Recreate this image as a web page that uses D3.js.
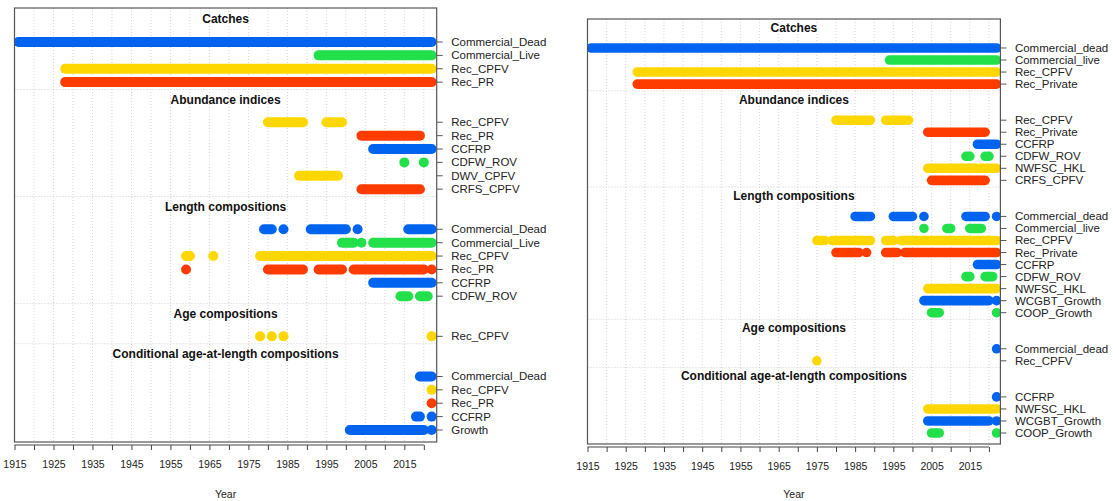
<!DOCTYPE html>
<html>
<head>
<meta charset="utf-8">
<script src="https://cdn.jsdelivr.net/npm/d3@7"></script>
<style>
body { margin: 0; background: #fff; }
text { font-family: "Liberation Sans", Arial, sans-serif; }
</style>
</head>
<body>
<svg id="chart" width="1113" height="501"></svg>
<script>
// x axis
var tickYears = d3.range(1915, 2021, 5);
var tickLabels = [1915, 1925, 1935, 1945, 1955, 1965, 1975, 1985, 1995, 2005, 2015];
var sectionTitles = ["Catches", "Abundance indices", "Length compositions", "Age compositions", "Conditional age-at-length compositions"];

// ---- left chart: fleets and year spans [first, last] ----
var leftCatchFleets = ["Commercial_Dead", "Commercial_Live", "Rec_CPFV", "Rec_PR"];
var leftCatchYears = [[[1916, 2022]], [[1993, 2022]], [[1928, 2022]], [[1928, 2022]]];

var leftIndexFleets = ["Rec_CPFV", "Rec_PR", "CCFRP", "CDFW_ROV", "DWV_CPFV", "CRFS_CPFV"];
var leftIndexYears = [[[1980, 1989], [1995, 1999]], [[2004, 2019]], [[2007, 2022]],
    [[2015, 2015], [2020, 2020]], [[1988, 1998]], [[2004, 2019]]];

var leftLengthFleets = ["Commercial_Dead", "Commercial_Live", "Rec_CPFV", "Rec_PR", "CCFRP", "CDFW_ROV"];
var leftLengthYears = [
    [[1979, 1981], [1984, 1984], [1991, 2000], [2003, 2003], [2016, 2022]],
    [[1999, 2002], [2004, 2004], [2007, 2022]],
    [[1959, 1960], [1966, 1966], [1978, 2022]],
    [[1959, 1959], [1980, 1989], [1993, 1999], [2002, 2020], [2022, 2022]],
    [[2007, 2022]],
    [[2014, 2016], [2019, 2021]]
];

var leftAgeFleets = ["Rec_CPFV"];
var leftAgeYears = [[[1978, 1978], [1981, 1981], [1984, 1984], [2022, 2022]]];

var leftCondFleets = ["Commercial_Dead", "Rec_CPFV", "Rec_PR", "CCFRP", "Growth"];
var leftCondYears = [[[2019, 2022]], [[2022, 2022]], [[2022, 2022]],
    [[2018, 2019], [2022, 2022]], [[2001, 2020], [2022, 2022]]];

// ---- right chart ----
var rightCatchFleets = ["Commercial_dead", "Commercial_live", "Rec_CPFV", "Rec_Private"];
var rightCatchYears = [[[1916, 2022]], [[1994, 2022]], [[1928, 2022]], [[1928, 2022]]];

var rightIndexFleets = ["Rec_CPFV", "Rec_Private", "CCFRP", "CDFW_ROV", "NWFSC_HKL", "CRFS_CPFV"];
var rightIndexYears = [[[1980, 1989], [1993, 1999]], [[2004, 2019]], [[2017, 2022]],
    [[2014, 2015], [2019, 2020]], [[2004, 2022]], [[2005, 2019]]];

var rightLengthFleets = ["Commercial_dead", "Commercial_live", "Rec_CPFV", "Rec_Private", "CCFRP",
    "CDFW_ROV", "NWFSC_HKL", "WCGBT_Growth", "COOP_Growth"];
var rightLengthYears = [
    [[1985, 1989], [1995, 2000], [2003, 2003], [2014, 2019], [2022, 2022]],
    [[2003, 2003], [2009, 2010], [2015, 2018]],
    [[1975, 1977], [1979, 1989], [1993, 1995], [1997, 2022]],
    [[1980, 1986], [1988, 1988], [1993, 1996], [1998, 2022]],
    [[2017, 2022]],
    [[2014, 2015], [2019, 2021]],
    [[2004, 2022]],
    [[2003, 2020], [2022, 2022]],
    [[2005, 2007], [2022, 2022]]
];

var rightAgeFleets = ["Commercial_dead", "Rec_CPFV"];
var rightAgeYears = [[[2022, 2022]], [[1975, 1975]]];

var rightCondFleets = ["CCFRP", "NWFSC_HKL", "WCGBT_Growth", "COOP_Growth"];
var rightCondYears = [[[2022, 2022]], [[2004, 2022]], [[2004, 2020], [2022, 2022]], [[2005, 2007], [2022, 2022]]];

// colours by fleet
var blue = "#0064f0", green = "#22e04a", yellow = "#ffd700", red = "#ff3c00";
var fleetColor = {
    Commercial_Dead: blue, Commercial_dead: blue, Commercial_Live: green, Commercial_live: green,
    Rec_CPFV: yellow, Rec_PR: red, Rec_Private: red, CCFRP: blue, CDFW_ROV: green,
    DWV_CPFV: yellow, NWFSC_HKL: yellow, CRFS_CPFV: red, Growth: blue,
    WCGBT_Growth: blue, COOP_Growth: green
};

var makeSections = function(fleets, years) {
    return sectionTitles.map(function(t, i) {
        return {title: t, fleets: fleets[i], years: years[i]};
    });
};

var panels = [
    {sections: makeSections([leftCatchFleets, leftIndexFleets, leftLengthFleets, leftAgeFleets, leftCondFleets],
                            [leftCatchYears, leftIndexYears, leftLengthYears, leftAgeYears, leftCondYears]),
     x0: 14.5, x1: 436.7, xMax: 2023.3, top: 8, bottom: 442, idxBottom: 0.103, idxTop: 32.54, barH: 10, tickY: 445},
    {sections: makeSections([rightCatchFleets, rightIndexFleets, rightLengthFleets, rightAgeFleets, rightCondFleets],
                            [rightCatchYears, rightIndexYears, rightLengthYears, rightAgeYears, rightCondYears]),
     x0: 587.5, x1: 1000.4, xMax: 2023.0, top: 19, bottom: 444, idxBottom: 0.086, idxTop: 35.41, barH: 9.6, tickY: 447}
];

var svg = d3.select("#chart");

var drawPanel = function(p, pi) {
    var x = d3.scaleLinear().domain([1915, p.xMax]).range([p.x0, p.x1]);
    var y = d3.scaleLinear().domain([p.idxBottom, p.idxTop]).range([p.bottom, p.top]);
    var g = svg.append("g");

    // row positions, counted from the bottom
    var idx = 1;
    var rows = [];
    p.sections.slice().reverse().forEach(function(s) {
        s.rowIdx = [];
        for (var i = s.fleets.length - 1; i >= 0; i--) {
            s.rowIdx[i] = idx;
            rows.push({name: s.fleets[i], idx: idx, years: s.years[i]});
            idx++;
        }
        s.firstIdx = idx - 1;
        s.lastIdx = s.rowIdx[s.fleets.length - 1];
        idx += 2;
    });

    // grid
    g.selectAll(".vgrid").data(tickYears).enter().append("line")
        .attr("x1", function(d){return x(d);}).attr("x2", function(d){return x(d);})
        .attr("y1", p.top).attr("y2", p.bottom)
        .attr("stroke", "#d4d4d4").attr("stroke-width", 1).attr("stroke-dasharray", "1,2");
    g.selectAll(".hgrid").data(p.sections.slice(0, -1)).enter().append("line")
        .attr("x1", p.x0).attr("x2", p.x1)
        .attr("y1", function(d){return y(d.lastIdx - 0.55);}).attr("y2", function(d){return y(d.lastIdx - 0.55);})
        .attr("stroke", "#cfcfcf").attr("stroke-width", 1).attr("stroke-dasharray", "1,2");

    svg.append("clipPath").attr("id", "clip" + pi).append("rect")
        .attr("x", p.x0).attr("y", p.top).attr("width", p.x1 - p.x0).attr("height", p.bottom - p.top);

    var r = p.barH / 2;
    var bars = g.append("g").attr("clip-path", "url(#clip" + pi + ")");
    rows.forEach(function(row) {
        bars.selectAll(null).data(row.years).enter().append("rect")
            .attr("x", function(d){return x(d[0]) - r;})
            .attr("width", function(d){return x(d[1]) - x(d[0]) + 2 * r;})
            .attr("y", y(row.idx) - r)
            .attr("height", 2 * r)
            .attr("rx", r).attr("ry", r)
            .attr("fill", fleetColor[row.name]);
    });

    // section titles
    g.selectAll(".title").data(p.sections).enter().append("text")
        .attr("x", (p.x0 + p.x1) / 2)
        .attr("y", function(d){return y(d.firstIdx + 1.7);})
        .attr("dominant-baseline", "central")
        .attr("text-anchor", "middle")
        .attr("font-size", 12).attr("font-weight", "bold").attr("fill", "#111")
        .text(function(d){return d.title;});

    // box
    g.append("rect").attr("x", p.x0).attr("y", p.top)
        .attr("width", p.x1 - p.x0).attr("height", p.bottom - p.top)
        .attr("fill", "none").attr("stroke", "#555").attr("stroke-width", 1.2);

    // right axis with row labels
    g.selectAll(".rtick").data(rows).enter().append("line")
        .attr("x1", p.x1).attr("x2", p.x1 + 6)
        .attr("y1", function(d){return y(d.idx);}).attr("y2", function(d){return y(d.idx);})
        .attr("stroke", "#555");
    g.selectAll(".rlab").data(rows).enter().append("text")
        .attr("x", p.x1 + 14.5)
        .attr("y", function(d){return y(d.idx);})
        .attr("dominant-baseline", "central")
        .attr("font-size", 11.5).attr("fill", "#222")
        .text(function(d){return d.name;});

    // bottom axis
    var axis = d3.axisBottom(x).tickValues(tickYears).tickSizeOuter(0).tickSize(5)
        .tickFormat(function(d){return tickLabels.indexOf(d) >= 0 ? d : "";});
    var ax = g.append("g").attr("transform", "translate(0," + p.tickY + ")").call(axis);
    ax.select(".domain").remove();
    ax.append("line").attr("x1", x(1915)).attr("x2", x(2020)).attr("stroke", "#444");
    ax.selectAll(".tick line").attr("stroke", "#444");
    ax.selectAll(".tick text").attr("dy", null).attr("y", 23)
        .attr("font-size", 10.5).attr("fill", "#222")
        .attr("font-family", "Liberation Sans, Arial, sans-serif");

    g.append("text").attr("x", (p.x0 + p.x1) / 2).attr("y", 498)
        .attr("text-anchor", "middle").attr("font-size", 10.5).attr("fill", "#222")
        .text("Year");
};

panels.forEach(drawPanel);
</script>
</body>
</html>
